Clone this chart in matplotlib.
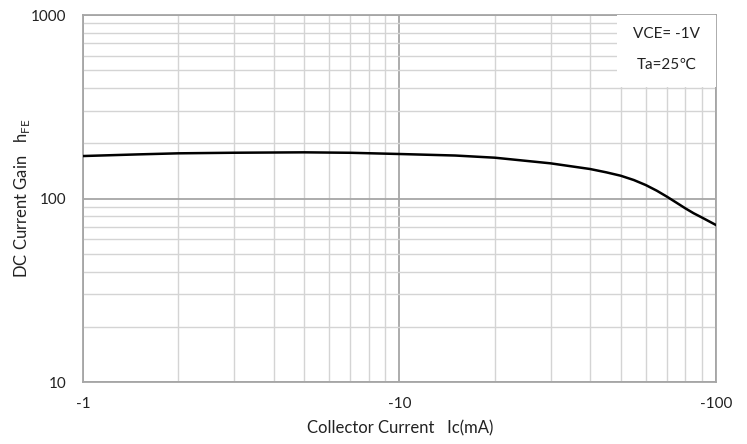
import matplotlib
matplotlib.use('Agg')
import matplotlib.pyplot as plt
import matplotlib.patches as mpatches
from matplotlib.ticker import FixedLocator, FixedFormatter, NullFormatter

plt.rcParams['font.family'] = ['Lato', 'DejaVu Sans']

# 读图数据 (|Ic| mA, hFE)
ic = [1, 1.5, 2, 3, 5, 7, 10, 15, 20, 30, 40, 45, 50, 55, 60, 65, 70, 75, 80, 85, 90, 100]
hfe = [170.4, 174.0, 176.3, 177.6, 178.5, 177.5, 174.8, 171.5, 166.9, 155.5,
       144.8, 138.9, 133.1, 126.1, 118.4, 110.3, 102.3, 94.9, 88.4, 83.1, 79.0, 71.7]

x_major = [1, 10, 100]
x_labels = ['-1', '-10', '-100']
y_major = [10, 100, 1000]
y_labels = ['10', '100', '1000']

x_minor = [m * d for d in (1, 10) for m in range(2, 10)]
y_minor = [m * d for d in (10, 100) for m in range(2, 10)]

C_minor = '#d4d4d4'
C_major = '#a6a6a6'
C_text = '#222222'

fig = plt.figure(figsize=(7.47, 4.44), dpi=100)
ax = fig.add_axes([0.1111, 0.1396, 0.8474, 0.8266])
ax.set_xscale('log'); ax.set_yscale('log')
ax.set_xlim(1, 100); ax.set_ylim(10, 1000)

ax.xaxis.set_major_locator(FixedLocator(x_major))
ax.xaxis.set_major_formatter(FixedFormatter(x_labels))
ax.yaxis.set_major_locator(FixedLocator(y_major))
ax.yaxis.set_major_formatter(FixedFormatter(y_labels))
ax.xaxis.set_minor_locator(FixedLocator(x_minor))
ax.yaxis.set_minor_locator(FixedLocator(y_minor))
ax.xaxis.set_minor_formatter(NullFormatter())
ax.yaxis.set_minor_formatter(NullFormatter())

ax.grid(which='minor', color=C_minor, lw=1.0)
ax.grid(which='major', color=C_major, lw=1.3)
ax.set_axisbelow(True)
ax.tick_params(which='both', length=0, labelsize=11, colors=C_text)
ax.tick_params(axis='x', pad=11)
ax.tick_params(axis='y', pad=12)
for s in ax.spines.values():
    s.set_color(C_major); s.set_linewidth(1.3)

ax.plot(ic, hfe, color='black', lw=1.8, zorder=4)

# 右上角条件框
ax.add_patch(mpatches.Rectangle((0.8436, 0.8038), 0.1564, 0.1962, transform=ax.transAxes,
                                facecolor='white', edgecolor='none', zorder=3))
ax.text(0.922, 0.947, 'VCE= -1V', transform=ax.transAxes, ha='center', va='center',
        fontsize=11, color=C_text, zorder=5)
ax.text(0.922, 0.865, 'Ta=25℃', transform=ax.transAxes, ha='center', va='center',
        fontsize=11, color=C_text, zorder=5)

# 坐标轴标题
fig.text(400 / 747, 1 - 428 / 444, 'Collector Current   Ic(mA)', ha='center', va='center',
         fontsize=12, color=C_text)
fig.text(22 / 747, 1 - 198 / 444, r'DC Current Gain   h$_{\mathregular{FE}}$', ha='center',
         va='center', rotation=90, fontsize=12, color=C_text)

fig.savefig('out.png', dpi=100, facecolor='white')
